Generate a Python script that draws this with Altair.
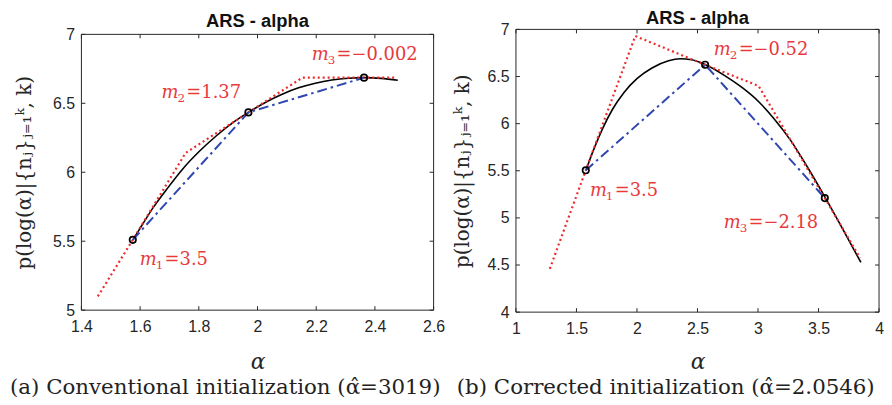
import altair as alt
import pandas as pd

# ---------------- data ----------------
# Panel (a): conventional initialization
L_CURVE_X = [1.575, 1.611, 1.645, 1.690, 1.746, 1.802, 1.859, 1.915, 1.969, 2.028,
             2.084, 2.140, 2.197, 2.253, 2.309, 2.363, 2.422, 2.478]
L_CURVE_Y = [5.508, 5.632, 5.745, 5.875, 6.026, 6.152, 6.263, 6.358, 6.434, 6.508,
             6.566, 6.612, 6.646, 6.669, 6.682, 6.686, 6.681, 6.667]
L_HULL_X = [1.456, 1.575, 1.755, 1.969, 2.153, 2.363, 2.475]
L_HULL_Y = [5.10, 5.51, 6.14, 6.434, 6.686, 6.686, 6.686]
L_PTS_X = [1.575, 1.969, 2.363]
L_PTS_Y = [5.51, 6.434, 6.686]
L_LAB_X = [1.599, 1.673, 2.185]
L_LAB_Y = [5.324, 6.535, 6.811]
L_LAB_SUB = ["1", "2", "3"]
L_LAB_VAL = ["=3.5", "=1.37", "=\u22120.002"]
L_XTICKS = [1.4, 1.6, 1.8, 2.0, 2.2, 2.4, 2.6]
L_YTICKS = [5, 5.5, 6, 6.5, 7]
L_CAPTION = "(a) Conventional initialization (\u03b1\u0302=3019)"

# Panel (b): corrected initialization
R_CURVE_X = [1.578, 1.647, 1.715, 1.797, 1.893, 2.002, 2.124, 2.261, 2.356, 2.452,
             2.567, 2.725, 2.862, 3.012, 3.134, 3.271, 3.408, 3.558, 3.681, 3.850]
R_CURVE_Y = [5.505, 5.740, 5.945, 6.150, 6.331, 6.480, 6.591, 6.667, 6.688, 6.677,
             6.625, 6.510, 6.389, 6.225, 6.050, 5.820, 5.540, 5.210, 4.926, 4.527]
R_HULL_X = [1.28, 1.577, 1.986, 2.563, 3.005, 3.552, 3.843]
R_HULL_Y = [4.46, 5.505, 6.93, 6.625, 6.40, 5.21, 4.575]
R_PTS_X = [1.577, 2.563, 3.552]
R_PTS_Y = [5.505, 6.625, 5.21]
R_LAB_X = [1.611, 2.635, 2.717]
R_LAB_Y = [5.231, 6.729, 4.891]
R_LAB_SUB = ["1", "2", "3"]
R_LAB_VAL = ["=3.5", "=\u22120.52", "=\u22122.18"]
R_XTICKS = [1, 1.5, 2, 2.5, 3, 3.5, 4]
R_YTICKS = [4, 4.5, 5, 5.5, 6, 6.5, 7]
R_CAPTION = "(b) Corrected initialization (\u03b1\u0302=2.0546)"

TITLE = "ARS - alpha"
Y_TITLE = "p(log(\u03b1)|{n\u2c7c}\u2c7c\u208c\u2081\u1d4f, k)"
X_TITLE = "\u03b1"

AX = "#262626"
RED = "#ec2b2b"
RED_TXT = "#e8393c"
BLUE = "#2f45b0"


def panel(cx, cy, hx, hy, px, py, lx, ly, lsub, lval, xticks, yticks,
          caption, w, h, top, title_y, cap_dx, cap_y, ytitle_pad, xtitle_pad):
    """h = full group height, plot box spans y from `top` to `h`."""
    curve = pd.DataFrame({"x": cx, "y": cy, "i": range(len(cx))})
    hull = pd.DataFrame({"x": hx, "y": hy, "i": range(len(hx))})
    pts = pd.DataFrame({"x": px, "y": py, "i": range(len(px))})
    labs = pd.DataFrame({"x": lx, "y": ly, "sub": lsub, "val": lval})
    xt = pd.DataFrame({"x": xticks})
    yt = pd.DataFrame({"y": yticks})
    cap = pd.DataFrame({"t": [caption]})
    ttl = pd.DataFrame({"t": [TITLE]})
    one = pd.DataFrame({"v": [0]})

    xax = alt.Axis(values=xticks, format="~g", title=X_TITLE,
                   titleFont="DejaVu Serif", titleFontStyle="italic",
                   titleFontSize=22, titleFontWeight="normal", titleColor=AX,
                   labelFont="Liberation Sans", labelFontSize=16, labelColor=AX,
                   ticks=False, tickSize=0, domain=False, grid=False,
                   labelPadding=9, titlePadding=xtitle_pad, labelFlush=False,
                   labelOverlap=False)
    yax = alt.Axis(values=yticks, format="~g", title=Y_TITLE,
                   titleFont="DejaVu Serif", titleFontSize=20,
                   titleFontWeight="normal", titleColor=AX,
                   labelFont="Liberation Sans", labelFontSize=16, labelColor=AX,
                   ticks=False, tickSize=0, domain=False, grid=False,
                   labelPadding=7, titlePadding=ytitle_pad, labelFlush=False,
                   labelOverlap=False)
    X = alt.X("x:Q", scale=alt.Scale(domain=[xticks[0], xticks[-1]], nice=False, zero=False), axis=xax)
    Y = alt.Y("y:Q", scale=alt.Scale(domain=[yticks[0], yticks[-1]], range=[h, top],
                                     nice=False, zero=False), axis=yax)

    l_curve = alt.Chart(curve).mark_line(color="black", strokeWidth=1.6,
                                         interpolate="monotone").encode(x=X, y=Y, order="i:Q")
    l_hull = alt.Chart(hull).mark_line(color=RED, strokeWidth=2.2, strokeDash=[2, 3]).encode(x=X, y=Y, order="i:Q")
    l_chord = alt.Chart(pts).mark_line(color=BLUE, strokeWidth=2.0, strokeDash=[10, 4, 2.5, 4]).encode(x=X, y=Y, order="i:Q")
    l_pts = alt.Chart(pts).mark_point(shape="circle", filled=False, size=42, color="black",
                                      strokeWidth=1.7, opacity=1).encode(x=X, y=Y)
    t_m = alt.Chart(labs).mark_text(font="DejaVu Serif", fontStyle="italic", fontSize=18,
                                    color=RED_TXT, align="left", baseline="alphabetic").encode(
        x=X, y=Y, text=alt.value("m"))
    t_sub = alt.Chart(labs).mark_text(font="DejaVu Serif", fontSize=12, color=RED_TXT,
                                      align="left", baseline="alphabetic", dx=16, dy=4).encode(
        x=X, y=Y, text="sub:N")
    t_val = alt.Chart(labs).mark_text(font="DejaVu Serif", fontSize=18, color=RED_TXT,
                                      align="left", baseline="alphabetic", dx=25).encode(
        x=X, y=Y, text="val:N")
    # inward tick marks on all four sides
    tb = alt.Chart(xt).mark_rule(color=AX, strokeWidth=1).encode(x=X, y=alt.value(h), y2=alt.value(h - 4))
    tt = alt.Chart(xt).mark_rule(color=AX, strokeWidth=1).encode(x=X, y=alt.value(top), y2=alt.value(top + 4))
    tl = alt.Chart(yt).mark_rule(color=AX, strokeWidth=1).encode(y=Y, x=alt.value(0), x2=alt.value(4))
    tr = alt.Chart(yt).mark_rule(color=AX, strokeWidth=1).encode(y=Y, x=alt.value(w - 4), x2=alt.value(w))
    # box
    b_top = alt.Chart(one).mark_rule(color=AX, strokeWidth=1).encode(
        x=alt.value(0), x2=alt.value(w), y=alt.value(top))
    b_bot = alt.Chart(one).mark_rule(color=AX, strokeWidth=1).encode(
        x=alt.value(0), x2=alt.value(w), y=alt.value(h))
    b_lft = alt.Chart(one).mark_rule(color=AX, strokeWidth=1).encode(
        x=alt.value(0), y=alt.value(top), y2=alt.value(h))
    b_rgt = alt.Chart(one).mark_rule(color=AX, strokeWidth=1).encode(
        x=alt.value(w), y=alt.value(top), y2=alt.value(h))
    t_title = alt.Chart(ttl).mark_text(font="Liberation Sans", fontSize=18.5, fontWeight="bold",
                                       color="#111111", align="center", baseline="alphabetic").encode(
        text="t:N", x=alt.value(w / 2), y=alt.value(title_y))
    t_cap = alt.Chart(cap).mark_text(font="DejaVu Serif", fontSize=21.5, color="#222222",
                                     align="center", baseline="middle").encode(
        text="t:N", x=alt.value(cap_dx), y=alt.value(cap_y))

    return alt.layer(l_curve, l_hull, l_chord, l_pts, t_m, t_sub, t_val,
                     tb, tt, tl, tr, b_top, b_bot, b_lft, b_rgt,
                     t_title, t_cap).properties(
        width=w, height=h, view=alt.ViewBackground(stroke=None))


# both group origins sit at the top of the right plot box
left = panel(L_CURVE_X, L_CURVE_Y, L_HULL_X, L_HULL_Y, L_PTS_X, L_PTS_Y,
             L_LAB_X, L_LAB_Y, L_LAB_SUB, L_LAB_VAL, L_XTICKS, L_YTICKS,
             L_CAPTION, 355, 283, 5, -2, 145, 362, 18, 17)
right = panel(R_CURVE_X, R_CURVE_Y, R_HULL_X, R_HULL_Y, R_PTS_X, R_PTS_Y,
              R_LAB_X, R_LAB_Y, R_LAB_SUB, R_LAB_VAL, R_XTICKS, R_YTICKS,
              R_CAPTION, 366, 285, 0, -5, 151, 362, 15, 15)

chart = alt.hconcat(
    left, right, spacing=83, bounds="flush"
).properties(
    padding={"left": 1, "top": 0, "right": 0, "bottom": 0}
).configure_view(stroke=None)

chart.save("out.html", embed_options={"renderer": "svg", "actions": False})
